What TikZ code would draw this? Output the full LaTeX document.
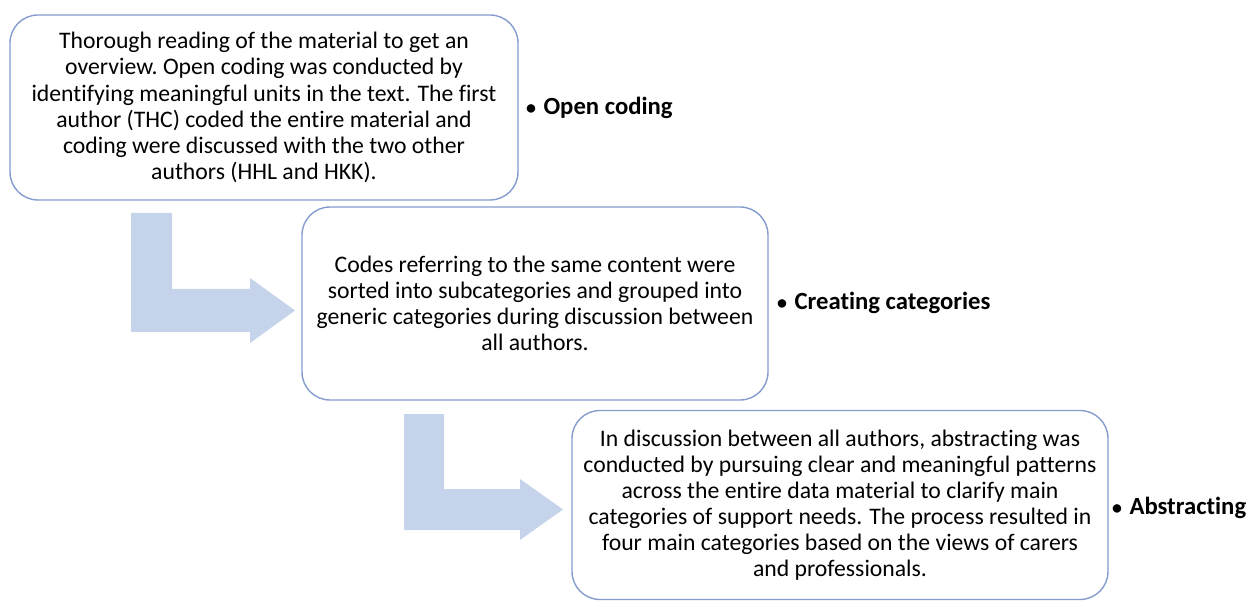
\documentclass[tikz,border=0pt]{standalone}
\usepackage{fontspec}
\setmainfont[Ligatures=NoCommon]{Carlito}
\definecolor{boxline}{RGB}{132,156,206}
\definecolor{arrowfill}{RGB}{197,212,234}
\begin{document}
\begin{tikzpicture}[x=1bp,y=-1bp,
  stepbox/.style={draw=boxline,line width=1.4bp,rounded corners=28bp,fill=white,
    align=center,inner sep=0pt,font=\fontsize{23.8}{26.2}\selectfont},
  label/.style={anchor=west,inner sep=0pt,font=\fontsize{24.8}{26}\selectfont\bfseries},
  bentarrow/.style={fill=arrowfill,draw=none}]
\useasboundingbox (0,0) rectangle (1255,602);
% bent arrows
\fill[bentarrow] (131,213) -- (172,213) -- (172,289) -- (250,289) -- (250,278) -- (295,310.5)
  -- (250,343) -- (250,332) -- (131,332) -- cycle;
\fill[bentarrow] (404,414) -- (444,414) -- (444,489) -- (520,489) -- (520,479) -- (563,509.5)
  -- (520,540) -- (520,530) -- (404,530) -- cycle;
% boxes
\node[stepbox,minimum width=508bp,minimum height=185bp] (b1) at (264,107.5)
 {Thorough reading of the material to get an\\
  overview.\ Open coding was conducted by\\
  identifying meaningful units in the text. The first\\
  author (THC) coded the entire material and\\
  coding were discussed with the two other\\
  authors (HHL and HKK).};
\node[stepbox,minimum width=466bp,minimum height=193bp] (b2) at (535,303.5)
 {Codes referring to the same content were\\
  sorted into subcategories and grouped into\\
  generic categories during discussion between\\
  all authors.};
\node[stepbox,minimum width=536bp,minimum height=189bp] (b3) at (840,505)
 {In discussion between all authors, abstracting was\\
  conducted by pursuing clear and meaningful patterns\\
  across the entire data material to clarify main\\
  categories of support needs. The process resulted in\\
  four main categories based on the views of carers\\
  and professionals.};
% labels
\node[label] (l1) at (526,108) {{\fontsize{20}{26}\selectfont•}\hspace{0.3em}Open coding};
\node[label] (l2) at (777,303) {{\fontsize{20}{26}\selectfont•}\hspace{0.3em}Creating categories};
\node[label] (l3) at (1112,508) {{\fontsize{20}{26}\selectfont•}\hspace{0.3em}Abstracting};
\end{tikzpicture}
\end{document}
